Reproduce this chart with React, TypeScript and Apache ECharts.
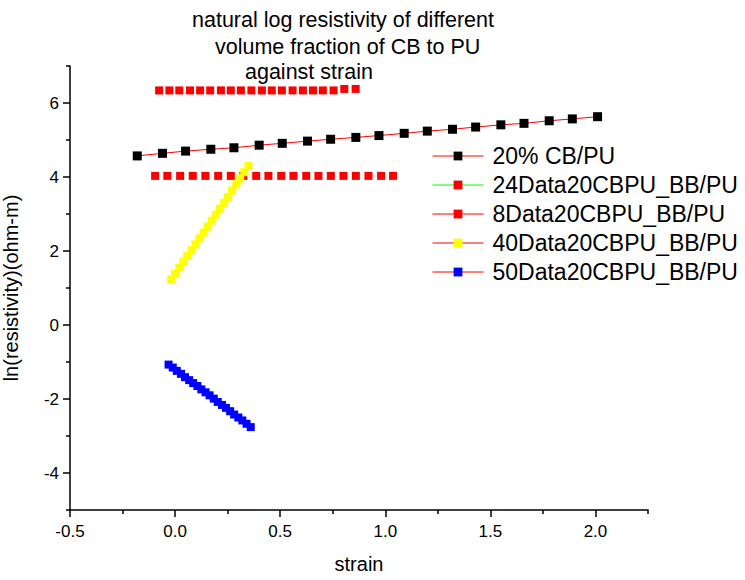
import React, { useEffect, useRef } from "react";
import * as echarts from "echarts";

const FONT = "'Liberation Sans', Arial, sans-serif";

const titleLines = [
  "natural log resistivity of different",
  "volume fraction of CB to PU",
  "against strain",
];
const seriesNames = [
  "20% CB/PU",
  "24Data20CBPU_BB/PU",
  "8Data20CBPU_BB/PU",
  "40Data20CBPU_BB/PU",
  "50Data20CBPU_BB/PU",
];

const cb20X = [-0.18, -0.06, 0.05, 0.17, 0.28, 0.4, 0.51, 0.63, 0.74, 0.86, 0.97, 1.09, 1.2, 1.32, 1.43, 1.55, 1.66, 1.78, 1.89, 2.01];
const cb20Y = [4.57, 4.64, 4.7, 4.75, 4.79, 4.86, 4.91, 4.97, 5.02, 5.07, 5.12, 5.18, 5.24, 5.29, 5.35, 5.41, 5.45, 5.52, 5.57, 5.63];

const d24X = [-0.076, -0.027, 0.02, 0.071, 0.119, 0.167, 0.218, 0.265, 0.313, 0.363, 0.413, 0.46, 0.508, 0.559, 0.608, 0.656, 0.703, 0.754, 0.805, 0.859];
const d24Y = [6.34, 6.34, 6.34, 6.34, 6.34, 6.34, 6.34, 6.34, 6.34, 6.34, 6.34, 6.34, 6.34, 6.34, 6.34, 6.34, 6.34, 6.34, 6.38, 6.38];

const d8X = [-0.095, -0.037, 0.024, 0.084, 0.144, 0.205, 0.265, 0.325, 0.386, 0.444, 0.505, 0.563, 0.624, 0.682, 0.741, 0.801, 0.86, 0.92, 0.98, 1.037];
const d8Y = [4.03, 4.03, 4.03, 4.03, 4.03, 4.03, 4.03, 4.03, 4.03, 4.03, 4.03, 4.03, 4.03, 4.03, 4.03, 4.03, 4.03, 4.03, 4.03, 4.03];

const d40X = [-0.019, 0.0, 0.02, 0.039, 0.058, 0.078, 0.097, 0.116, 0.136, 0.155, 0.174, 0.194, 0.213, 0.233, 0.252, 0.271, 0.291, 0.31, 0.329, 0.349];
const d40Y = [1.23, 1.38, 1.55, 1.71, 1.87, 2.02, 2.18, 2.34, 2.5, 2.66, 2.82, 2.98, 3.14, 3.3, 3.46, 3.63, 3.8, 3.96, 4.13, 4.3];

const d50X = [-0.031, -0.011, 0.008, 0.028, 0.047, 0.067, 0.086, 0.106, 0.125, 0.145, 0.164, 0.184, 0.203, 0.223, 0.242, 0.262, 0.281, 0.301, 0.32, 0.34, 0.36];
const d50Y = [-1.07, -1.15, -1.24, -1.32, -1.41, -1.49, -1.57, -1.65, -1.74, -1.82, -1.9, -1.99, -2.08, -2.16, -2.24, -2.33, -2.42, -2.5, -2.58, -2.67, -2.76];

const xMajorTicks = [-0.5, 0, 0.5, 1, 1.5, 2];
const xMinorTicks = [-0.25, 0.25, 0.75, 1.25, 1.75, 2.25];
const yMajorTicks = [-4, -2, 0, 2, 4, 6];
const yMinorTicks = [-5, -3, -1, 1, 3, 5, 7];

const pairs = (xs: number[], ys: number[]) => xs.map((x, i) => [x, ys[i]]);

export default function App() {
  const ref = useRef<HTMLDivElement>(null);
  useEffect(() => {
    if (!ref.current) return;
    const chart = echarts.init(ref.current, undefined, { renderer: "svg" });
    const axisLine = { show: true, onZero: false, lineStyle: { color: "#000", width: 1.5 } };
    const tickLine = { color: "#000", width: 1.5 };
    const labelStyle = { color: "#000", fontSize: 17, fontFamily: FONT };
    const titleTops = [9, 36, 61];
    const titleLefts = [192, 215, 245];
    chart.setOption({
      animation: false,
      backgroundColor: "#fff",
      title: titleLines.map((t, i) => ({
        text: t,
        left: titleLefts[i],
        top: titleTops[i],
        padding: 0,
        textStyle: { fontSize: 21.5, fontWeight: "normal", color: "#000", fontFamily: FONT },
      })),
      grid: { left: 70, right: 97, top: 66, bottom: 70, containLabel: false, outerBoundsMode: "none" },
      legend: {
        orient: "vertical",
        left: 432,
        top: 144.5,
        padding: 0,
        itemWidth: 51,
        itemHeight: 11,
        itemGap: 6,
        textStyle: { fontSize: 23, color: "#000", fontFamily: FONT, padding: [0, 0, 0, 4] },
        data: [
          { name: seriesNames[0], lineStyle: { color: "#ff0000", width: 1 } },
          { name: seriesNames[1], lineStyle: { color: "#00ff00", width: 1 } },
          { name: seriesNames[2], lineStyle: { color: "#ff0000", width: 1 } },
          { name: seriesNames[3], lineStyle: { color: "#ff0000", width: 1 } },
          { name: seriesNames[4], lineStyle: { color: "#ff0000", width: 1 } },
        ],
      },
      xAxis: [
        {
          type: "value",
          min: -0.5,
          max: 2.25,
          position: "bottom",
          name: "strain",
          nameLocation: "middle",
          nameGap: 44,
          nameTextStyle: { fontSize: 20, color: "#000", fontFamily: FONT },
          axisLine,
          axisTick: { show: true, customValues: xMajorTicks, length: 7, lineStyle: tickLine },
          axisLabel: { customValues: xMajorTicks, formatter: (v: number) => v.toFixed(1), margin: 13, ...labelStyle },
          splitLine: { show: false },
        },
        {
          type: "value",
          min: -0.5,
          max: 2.25,
          position: "bottom",
          axisLine: { show: false, onZero: false },
          axisTick: { show: true, customValues: xMinorTicks, length: 4, lineStyle: tickLine },
          axisLabel: { show: false },
          splitLine: { show: false },
        },
      ],
      yAxis: [
        {
          type: "value",
          min: -5,
          max: 7,
          position: "left",
          name: "ln(resistivity)(ohm-m)",
          nameLocation: "middle",
          nameGap: 49,
          nameTextStyle: { fontSize: 20, color: "#000", fontFamily: FONT },
          axisLine,
          axisTick: { show: true, customValues: yMajorTicks, length: 7, lineStyle: tickLine },
          axisLabel: { customValues: yMajorTicks, margin: 11, ...labelStyle },
          splitLine: { show: false },
        },
        {
          type: "value",
          min: -5,
          max: 7,
          position: "left",
          axisLine: { show: false, onZero: false },
          axisTick: { show: true, customValues: yMinorTicks, length: 4, lineStyle: tickLine },
          axisLabel: { show: false },
          splitLine: { show: false },
        },
      ],
      series: [
        {
          name: seriesNames[0],
          type: "line",
          data: pairs(cb20X, cb20Y),
          symbol: "rect",
          symbolSize: 9,
          itemStyle: { color: "#000000" },
          lineStyle: { color: "#ff0000", width: 1 },
        },
        {
          name: seriesNames[1],
          type: "line",
          data: pairs(d24X, d24Y),
          symbol: "rect",
          symbolSize: 8,
          itemStyle: { color: "#ff0000" },
          lineStyle: { color: "#00ff00", width: 0 },
        },
        {
          name: seriesNames[2],
          type: "line",
          data: pairs(d8X, d8Y),
          symbol: "rect",
          symbolSize: 8,
          itemStyle: { color: "#ff0000" },
          lineStyle: { color: "#ff0000", width: 0 },
        },
        {
          name: seriesNames[3],
          type: "line",
          data: pairs(d40X, d40Y),
          symbol: "rect",
          symbolSize: 8,
          itemStyle: { color: "#ffff00" },
          lineStyle: { color: "#ff0000", width: 0 },
        },
        {
          name: seriesNames[4],
          type: "line",
          data: pairs(d50X, d50Y),
          symbol: "rect",
          symbolSize: 8,
          itemStyle: { color: "#0000ff" },
          lineStyle: { color: "#ff0000", width: 0 },
        },
      ],
    });
    return () => chart.dispose();
  }, []);
  return (
    <div
      ref={ref}
      style={{ position: "fixed", left: 0, top: 0, width: 745, height: 580, background: "#fff" }}
    />
  );
}
